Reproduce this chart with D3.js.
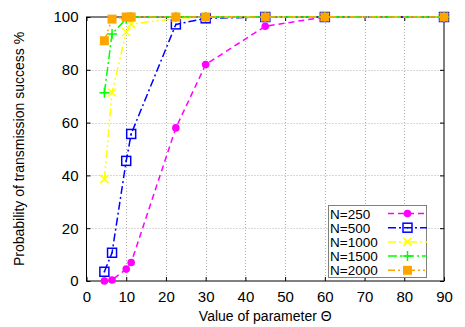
<!DOCTYPE html>
<html>
<head>
<meta charset="utf-8">
<script src="https://cdn.jsdelivr.net/npm/d3@7"></script>
<style>
  body { margin: 0; background: #fff; }
  svg { display: block; font-family: "Liberation Sans", Arial, sans-serif; }
</style>
</head>
<body>
<svg id="chart" width="465" height="327"></svg>
<script>
// theta values (divisors of 360)
var theta = [4.5, 6.43, 10, 11.25, 22.5, 30, 45, 60, 90]
var n250 = [0, 0.4, 4.5, 7, 58, 82, 96.5, 100, 100]
var n500 = [3.5, 10.7, 45.5, 55.7, 97.2, 99.5, 100, 100, 100]
var n1000 = [38.6, 71.4, 94.3, 97.3, 99.5, 100, 100, 100, 100]
var n1500 = [71.3, 93.6, 99.3, 100, 100, 100, 100, 100, 100]
var n2000 = [91, 99.2, 100, 100, 100, 100, 100, 100, 100]
var seriesNames = ['N=250', 'N=500', 'N=1000', 'N=1500', 'N=2000']
var xTicks = [0, 10, 20, 30, 40, 50, 60, 70, 80, 90]
var yTicks = [0, 20, 40, 60, 80, 100]

var series = [
  {name: seriesNames[0], values: n250, color: '#ff00ff', dash: '6,4', marker: 'circle'},
  {name: seriesNames[1], values: n500, color: '#0000ff', dash: '8,3,2,3', marker: 'square'},
  {name: seriesNames[2], values: n1000, color: '#ffff00', dash: '8,3,2,3,2,3', marker: 'cross'},
  {name: seriesNames[3], values: n1500, color: '#00ff00', dash: '9,3,2,3', marker: 'plus'},
  {name: seriesNames[4], values: n2000, color: '#ffa500', dash: '7,3,2,3,2,3', marker: 'fsquare'}
]

var svg = d3.select('#chart')
var m = {left: 86.5, right: 444, top: 17, bottom: 281}

var x = d3.scaleLinear().domain([0, 90]).range([m.left, m.right])
var y = d3.scaleLinear().domain([0, 100]).range([m.bottom, m.top])

// grid
var grid = svg.append('g').attr('stroke', '#b0b0b0').attr('stroke-width', 1).attr('stroke-dasharray', '1,2')
grid.selectAll('line.gx').data(xTicks.slice(1, -1)).enter().append('line')
  .attr('x1', d => Math.round(x(d)) + 0.5).attr('x2', d => Math.round(x(d)) + 0.5)
  .attr('y1', m.top).attr('y2', m.bottom)
grid.selectAll('line.gy').data(yTicks.slice(1, -1)).enter().append('line')
  .attr('y1', d => Math.round(y(d)) + 0.5).attr('y2', d => Math.round(y(d)) + 0.5)
  .attr('x1', m.left).attr('x2', m.right)

// axes (ticks inward, mirrored)
var xAxis = d3.axisBottom(x).tickValues(xTicks).tickSize(-4).tickPadding(10)
var yAxis = d3.axisLeft(y).tickValues(yTicks).tickSize(-4).tickPadding(8)
var gx = svg.append('g').attr('transform', 'translate(0,' + m.bottom + ')').call(xAxis)
var gy = svg.append('g').attr('transform', 'translate(' + m.left + ',0)').call(yAxis)
svg.append('g').attr('transform', 'translate(0,' + m.top + ')')
  .call(d3.axisTop(x).tickValues(xTicks).tickSize(-4).tickFormat(''))
svg.append('g').attr('transform', 'translate(' + m.right + ',0)')
  .call(d3.axisRight(y).tickValues(yTicks).tickSize(-4).tickFormat(''))
svg.selectAll('.domain').remove()
svg.selectAll('.tick line').attr('stroke', '#000')
svg.selectAll('.tick text').attr('font-size', 15).attr('fill', '#000')
  .attr('font-family', '"Liberation Sans", Arial, sans-serif')

svg.append('rect').attr('x', m.left).attr('y', m.top)
  .attr('width', m.right - m.left).attr('height', m.bottom - m.top)
  .attr('fill', 'none').attr('stroke', '#000').attr('stroke-width', 1)

// lines
var line = d3.line().x(d => x(d[0])).y(d => y(d[1]))
series.forEach(function(s) {
  var pts = theta.map((t, i) => [t, s.values[i]])
  svg.append('path').datum(pts).attr('d', line)
    .attr('fill', 'none').attr('stroke', s.color).attr('stroke-width', 1.5)
    .attr('stroke-dasharray', s.dash)
  pts.forEach(p => drawMarker(svg, s, x(p[0]), y(p[1])))
})

function drawMarker(g, s, cx, cy) {
  var c = s.color
  if (s.marker === 'circle') {
    g.append('circle').attr('cx', cx).attr('cy', cy).attr('r', 3.8).attr('fill', c)
  } else if (s.marker === 'square') {
    g.append('rect').attr('x', cx - 4.5).attr('y', cy - 4.5).attr('width', 9).attr('height', 9)
      .attr('fill', 'none').attr('stroke', c).attr('stroke-width', 1.5)
    g.append('rect').attr('x', cx - 0.75).attr('y', cy - 0.75).attr('width', 1.5).attr('height', 1.5).attr('fill', c)
  } else if (s.marker === 'cross') {
    g.append('path').attr('d', `M${cx-4},${cy-4}L${cx+4},${cy+4}M${cx-4},${cy+4}L${cx+4},${cy-4}`)
      .attr('stroke', c).attr('stroke-width', 1.5)
  } else if (s.marker === 'plus') {
    g.append('path').attr('d', `M${cx-5},${cy}L${cx+5},${cy}M${cx},${cy-5}L${cx},${cy+5}`)
      .attr('stroke', c).attr('stroke-width', 1.5)
  } else {
    g.append('rect').attr('x', cx - 4.5).attr('y', cy - 4.5).attr('width', 9).attr('height', 9).attr('fill', c)
  }
}

// axis labels
svg.append('text').attr('x', (m.left + m.right) / 2).attr('y', 321)
  .attr('text-anchor', 'middle').attr('font-size', 14).text('Value of parameter Θ')
svg.append('text').attr('transform', 'translate(24,' + (m.top + m.bottom) / 2 + ') rotate(-90)')
  .attr('text-anchor', 'middle').attr('font-size', 14).text('Probability of transmission success %')

// legend
var lg = svg.append('g')
lg.append('rect').attr('x', 328.5).attr('y', 205.5).attr('width', 98).attr('height', 72)
  .attr('fill', '#fff').attr('stroke', '#808080').attr('stroke-width', 1)
series.forEach(function(s, i) {
  var ry = 213.5 + i * 14.2
  lg.append('text').attr('x', 330).attr('y', ry + 5).attr('font-size', 13.5).text(s.name)
  lg.append('line').attr('x1', 388).attr('x2', 427).attr('y1', ry).attr('y2', ry)
    .attr('stroke', s.color).attr('stroke-width', 1.5).attr('stroke-dasharray', s.dash)
  drawMarker(lg, s, 407.5, ry)
})
</script>
</body>
</html>
